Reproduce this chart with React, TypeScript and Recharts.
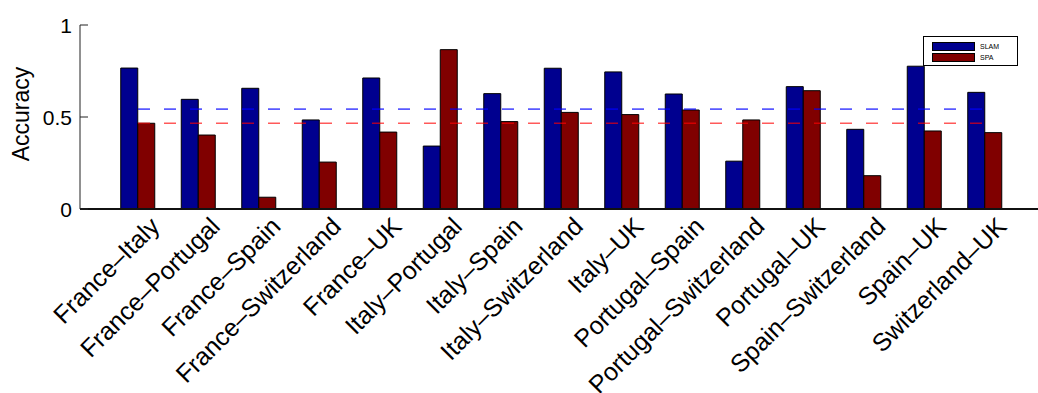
import React from 'react';
import { BarChart, Bar, XAxis, YAxis, ReferenceLine, Legend } from 'recharts';

const categories = [
  'France–Italy',
  'France–Portugal',
  'France–Spain',
  'France–Switzerland',
  'France–UK',
  'Italy–Portugal',
  'Italy–Spain',
  'Italy–Switzerland',
  'Italy–UK',
  'Portugal–Spain',
  'Portugal–Switzerland',
  'Portugal–UK',
  'Spain–Switzerland',
  'Spain–UK',
  'Switzerland–UK',
];
const slamValues = [0.766, 0.596, 0.656, 0.484, 0.712, 0.342, 0.627, 0.765, 0.745, 0.625, 0.26, 0.665, 0.433, 0.776, 0.634];
const spaValues = [0.466, 0.402, 0.064, 0.255, 0.418, 0.866, 0.475, 0.525, 0.513, 0.538, 0.484, 0.643, 0.181, 0.424, 0.415];
const yTicks = [0, 0.5, 1];
const slamReference = 0.543;
const spaReference = 0.466;

const data = categories.map((name, i) => ({ name, SLAM: slamValues[i], SPA: spaValues[i] }));

const FONT = '"Liberation Sans", Arial, Helvetica, sans-serif';
const SLAM_COLOR = '#00008F';
const SPA_COLOR = '#800000';

const XTick = (props: any) => {
  const { x, y, payload } = props;
  const px = x + 23;
  const py = y + 19;
  return (
    <text
      x={px}
      y={py}
      textAnchor="end"
      transform={`rotate(-45, ${px}, ${py})`}
      fontFamily={FONT}
      fontSize={25}
      fill="#000"
    >
      {payload.value}
    </text>
  );
};

const YTick = (props: any) => {
  const { x, y, payload } = props;
  return (
    <g>
      <line x1={x} x2={x + 8} y1={y} y2={y} stroke="#222" strokeWidth={1} />
      <text x={x - 8} y={y} dy={7.5} textAnchor="end" fontFamily={FONT} fontSize={21} fill="#000">
        {payload.value}
      </text>
    </g>
  );
};

const YLabel = (props: any) => {
  const { viewBox } = props;
  const cx = viewBox.x + 29;
  const cy = viewBox.y + viewBox.height / 2 - 3;
  return (
    <text
      x={cx}
      y={cy}
      textAnchor="middle"
      transform={`rotate(-90, ${cx}, ${cy})`}
      fontFamily={FONT}
      fontSize={23}
      fill="#000"
    >
      Accuracy
    </text>
  );
};

const LegendContent = (props: any) => {
  const { payload } = props;
  return (
    <div
      style={{
        border: '1.5px solid #000',
        background: '#fff',
        padding: '4px 0 2px 8px',
        width: 95,
        boxSizing: 'border-box',
        fontFamily: FONT,
      }}
    >
      {(payload || []).map((entry: any) => (
        <div key={entry.value} style={{ display: 'flex', alignItems: 'center', height: 11 }}>
          <div
            style={{
              width: 43,
              height: 9,
              background: entry.color,
              border: '1px solid #000',
              boxSizing: 'border-box',
            }}
          />
          <span style={{ fontSize: 7, marginLeft: 5, color: '#000' }}>{entry.value}</span>
        </div>
      ))}
    </div>
  );
};

export default function App() {
  return (
    <div
      style={{
        position: 'absolute',
        left: 0,
        top: 0,
        width: 1038,
        height: 393,
        overflow: 'hidden',
        background: '#fff',
      }}
    >
      <BarChart
        width={1060}
        height={393}
        data={data}
        margin={{ top: 25, right: 15, bottom: 0, left: 0 }}
        barGap={0}
        barSize={17}
      >
        <XAxis
          dataKey="name"
          type="category"
          height={184}
          padding={{ left: 27.75, right: 29.75 }}
          interval={0}
          tickLine={false}
          tickSize={0}
          tickMargin={0}
          axisLine={{ stroke: '#111', strokeWidth: 2 }}
          tick={<XTick />}
        />
        <YAxis
          type="number"
          domain={[0, 1]}
          ticks={yTicks}
          width={80}
          tickLine={false}
          tickSize={0}
          tickMargin={0}
          axisLine={{ stroke: '#222', strokeWidth: 1 }}
          tick={<YTick />}
          label={<YLabel />}
        />
        <Legend
          layout="vertical"
          align="center"
          verticalAlign="middle"
          wrapperStyle={{ left: 923, top: 36, width: 95 }}
          content={<LegendContent />}
        />
        <Bar dataKey="SLAM" name="SLAM" fill={SLAM_COLOR} stroke="#000" strokeWidth={1} isAnimationActive={false} />
        <Bar dataKey="SPA" name="SPA" fill={SPA_COLOR} stroke="#000" strokeWidth={1} isAnimationActive={false} />
        <ReferenceLine
          segment={[
            { x: categories[0], y: slamReference },
            { x: categories[categories.length - 1], y: slamReference },
          ]}
          stroke="#0000FF"
          strokeOpacity={0.65}
          strokeWidth={1.6}
          strokeDasharray="12 14"
        />
        <ReferenceLine
          segment={[
            { x: categories[0], y: spaReference },
            { x: categories[categories.length - 1], y: spaReference },
          ]}
          stroke="#FF0000"
          strokeOpacity={0.65}
          strokeWidth={1.6}
          strokeDasharray="12 14"
        />
      </BarChart>
    </div>
  );
}
